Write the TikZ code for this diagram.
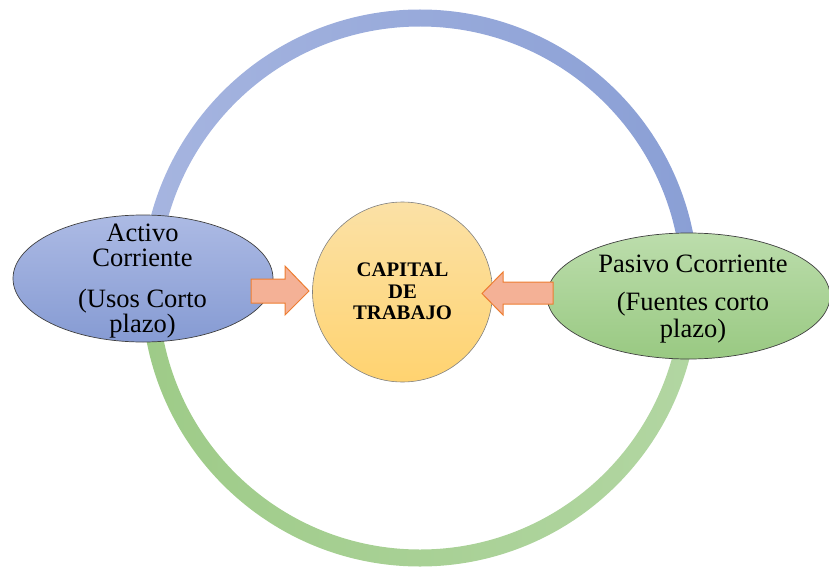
\documentclass[tikz,border=0pt]{standalone}
\usepackage{fontspec}
\setmainfont{Liberation Serif}
\usetikzlibrary{shapes.geometric}

\definecolor{ringBlueL}{RGB}{166,181,224}
\definecolor{ringBlueR}{RGB}{138,159,213}
\definecolor{ringGreenL}{RGB}{158,203,136}
\definecolor{ringGreenR}{RGB}{178,214,162}
\definecolor{actTop}{RGB}{172,186,228}
\definecolor{actBot}{RGB}{134,155,211}
\definecolor{pasTop}{RGB}{188,221,172}
\definecolor{pasBot}{RGB}{153,201,130}
\definecolor{capTop}{RGB}{251,225,166}
\definecolor{capBot}{RGB}{255,211,112}
\definecolor{arrFill}{RGB}{244,177,150}
\definecolor{arrLine}{RGB}{237,125,49}

\tikzset{
  bubble/.style={ellipse, draw=black!75, line width=0.7pt, inner sep=0pt},
  core/.style={circle, draw=black!50, line width=0.6pt, inner sep=0pt,
    minimum size=180pt, top color=capTop, bottom color=capBot},
  label/.style={align=center, inner sep=0pt,
    font=\fontsize{26.5}{25}\selectfont},
  corelabel/.style={align=center, inner sep=0pt,
    font=\fontsize{20.7}{21.5}\selectfont\bfseries},
  blockarrow/.style={fill=arrFill, draw=arrLine, line width=1pt, line join=miter}
}

\begin{document}
\begin{tikzpicture}[x=1pt, y=-1pt]
  \useasboundingbox (0,0) rectangle (829,567);

  % outer ring, centre (420,288): upper half blue, lower half green
  \shade[left color=ringBlueL, right color=ringBlueR]
    (141.5,288) arc[start angle=180, end angle=360, radius=278.5]
    -- (681.5,288) arc[start angle=360, end angle=180, radius=261.5] -- cycle;
  \shade[left color=ringGreenL, right color=ringGreenR]
    (698.5,288) arc[start angle=0, end angle=180, radius=278.5]
    -- (158.5,288) arc[start angle=180, end angle=0, radius=261.5] -- cycle;

  % the three bubbles
  \node[bubble, minimum width=260pt, minimum height=127pt,
        top color=actTop, bottom color=actBot] (act) at (143,278.5) {};
  \node[bubble, minimum width=283pt, minimum height=126pt,
        top color=pasTop, bottom color=pasBot] (pas) at (688.5,296) {};
  \node[core] (cap) at (402.5,292) {};

  % texts
  \node[label] (actT) at (142.5,281.3)
    {Activo\\Corriente\\[16pt](Usos Corto\\plazo)};
  \node[label, font=\fontsize{26.5}{26}\selectfont] (pasT) at (693,299.3)
    {Pasivo Ccorriente\\[12pt](Fuentes corto\\[1pt]plazo)};
  \node[corelabel] (capT) at (402.5,291.5) {CAPITAL\\DE\\TRABAJO};

  % block arrows pointing at the centre
  \draw[blockarrow] (251,279) -- (285,279) -- (285,266) -- (309,291)
    -- (285,315) -- (285,303) -- (251,303) -- cycle;
  \draw[blockarrow] (553,282) -- (503,282) -- (503,272) -- (482,293.5)
    -- (503,315) -- (503,304) -- (553,304) -- cycle;
\end{tikzpicture}
\end{document}
